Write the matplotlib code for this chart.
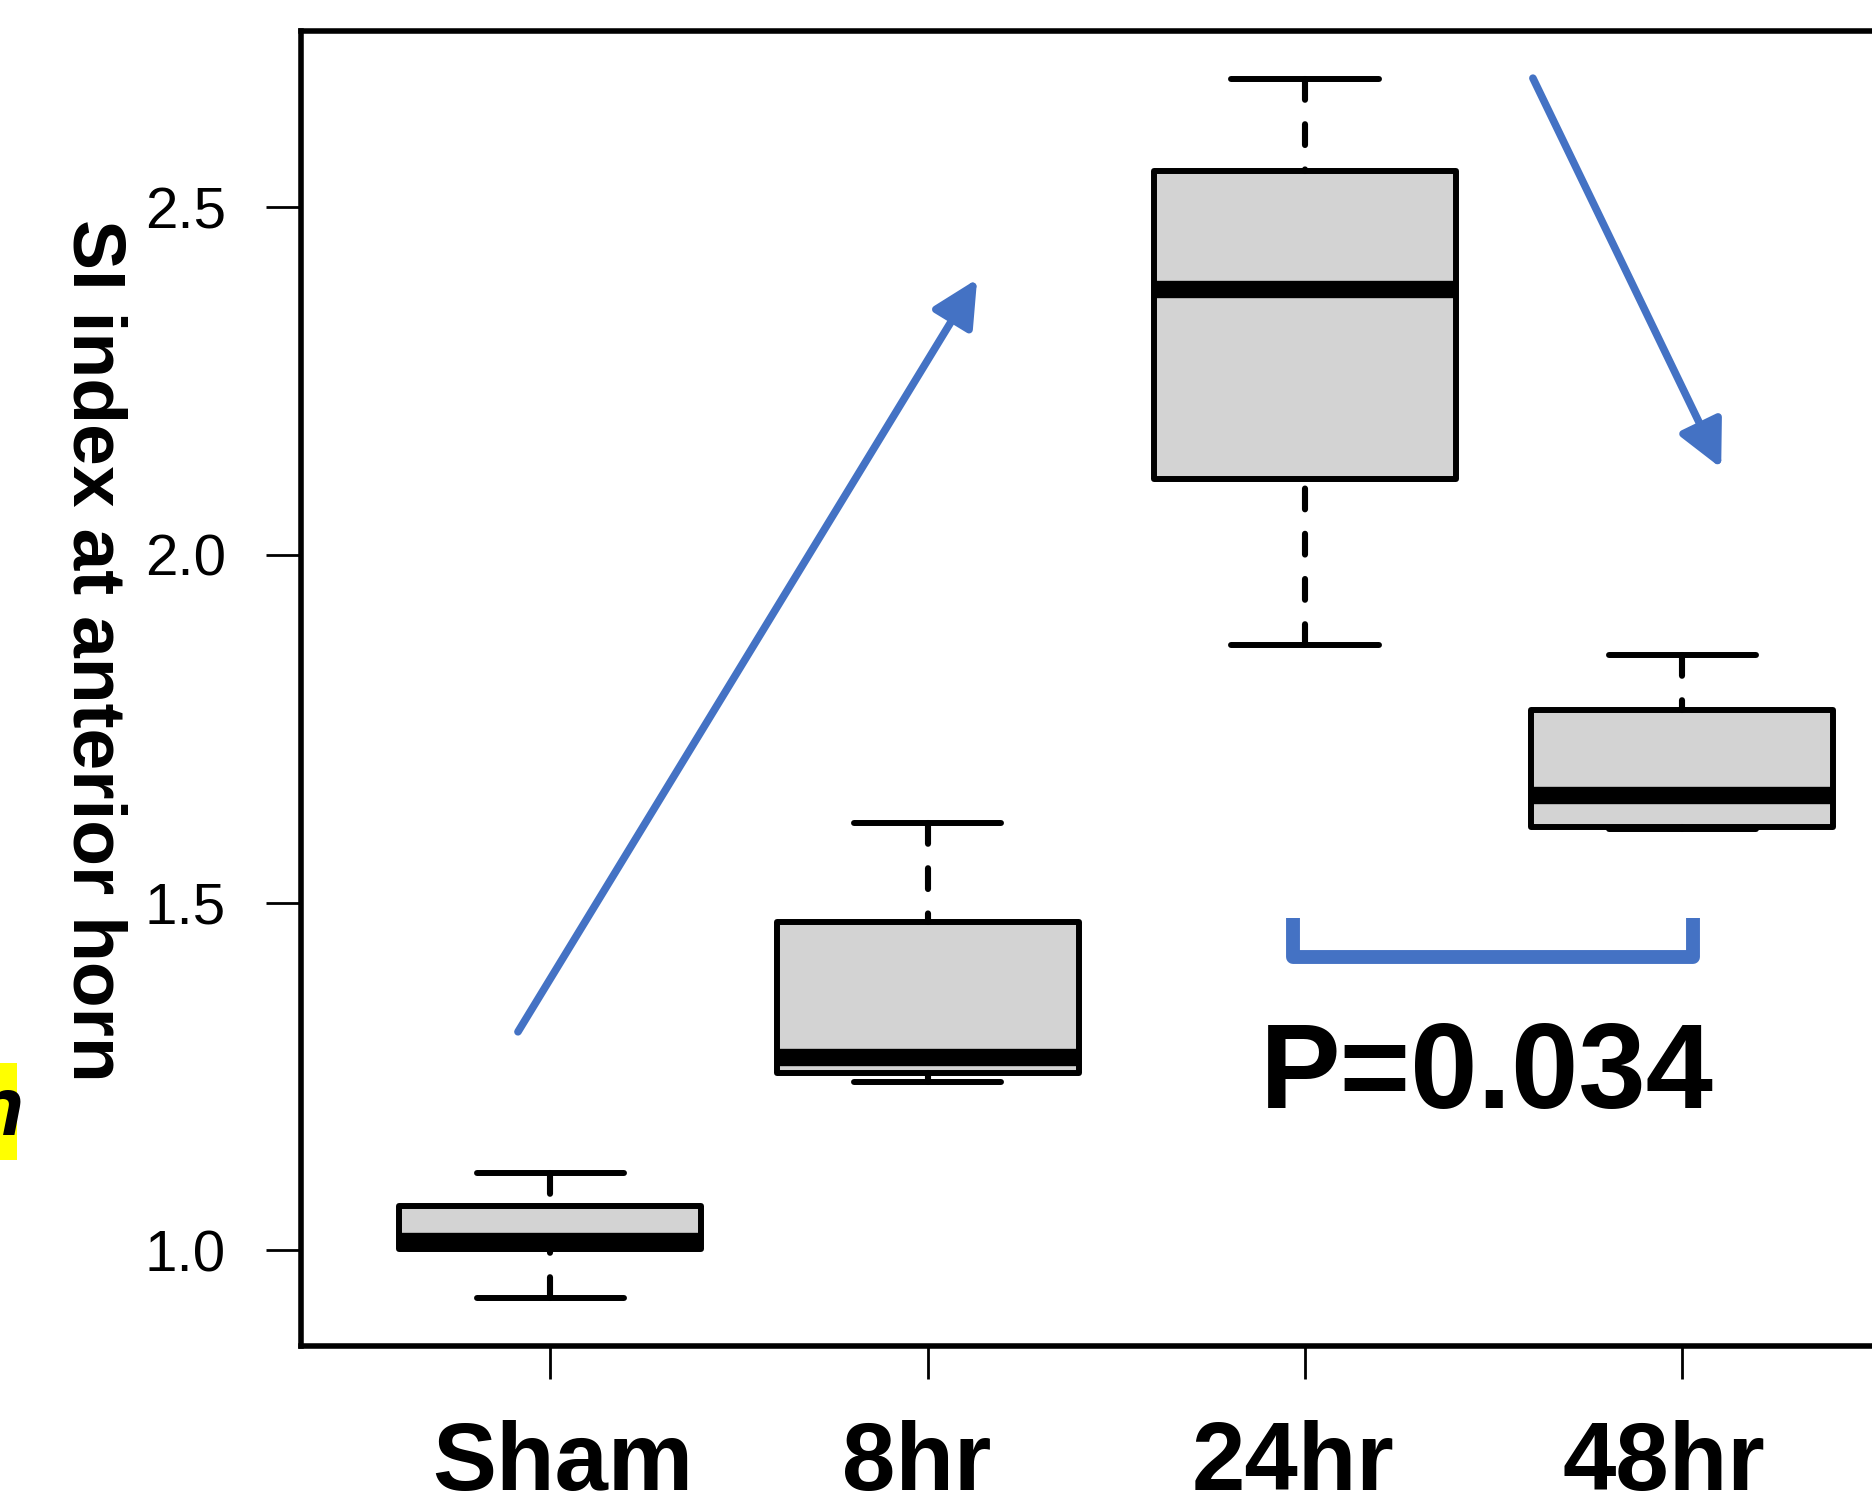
import matplotlib
matplotlib.use('Agg')
import matplotlib.pyplot as plt
import matplotlib.transforms as mtransforms
from matplotlib.patches import Rectangle, FancyArrowPatch

plt.rcParams['font.family'] = ['Liberation Sans', 'DejaVu Sans']

# data
groups = ['Sham', '8hr', '24hr', '48hr']
whislo = [0.931, 1.242, 1.871, 1.606]
q1 = [1.001, 1.255, 2.109, 1.609]
med = [1.013, 1.278, 2.383, 1.655]
q3 = [1.063, 1.472, 2.553, 1.777]
whishi = [1.111, 1.614, 2.685, 1.856]
yticks = [1.0, 1.5, 2.0, 2.5]
p_text = 'P=0.034'

blue = '#4472C4'
positions = [1, 2, 3, 4]

fig = plt.figure(figsize=(18.72, 15), dpi=100)
ax = fig.add_axes([0.1608, 0.1027, 0.8711, 0.8767])

stats = []
for i, g in enumerate(groups):
    stats.append(dict(label=g, whislo=whislo[i], q1=q1[i], med=med[i],
                      q3=q3[i], whishi=whishi[i], fliers=[]))

bp = ax.bxp(stats, positions=positions, widths=0.8, capwidths=0.39,
            patch_artist=True, showfliers=False,
            boxprops=dict(facecolor='#D3D3D3', edgecolor='black', linewidth=4.3, joinstyle='round'),
            medianprops=dict(color='black', linewidth=12.5, solid_capstyle='butt'),
            whiskerprops=dict(color='black', linewidth=4.4, linestyle=(0, (3.4, 4.0)),
                              dash_capstyle='round'),
            capprops=dict(color='black', linewidth=4.3, solid_capstyle='round'))
# R draws the dashes from the whisker end toward the box
for line in bp['whiskers']:
    line.set_ydata(line.get_ydata()[::-1])

ax.set_xlim(0.339, 4.661)
ax.set_ylim(0.862, 2.754)

for s in ax.spines.values():
    s.set_linewidth(4)

ax.set_xticks(positions)
ax.set_xticklabels([''] * len(positions))
ax.set_yticks(yticks)
ax.set_yticklabels(['%.1f' % v for v in yticks])
ax.tick_params(axis='x', direction='out', length=24, width=2)
ax.tick_params(axis='y', direction='out', length=25, width=2, pad=29, labelsize=42)

# group labels (placed by hand in the original, slightly off the ticks)
label_shift = [0.032, -0.029, -0.032, -0.048]
trans = mtransforms.blended_transform_factory(ax.transData, fig.transFigure)
for pos, g, sh in zip(positions, groups, label_shift):
    ax.text(pos + sh, 0.0067, g, transform=trans, ha='center', va='baseline',
            fontsize=69, fontweight='bold', clip_on=False)

fig.text(0.0497, 0.5667, 'SI index at anterior horn', rotation=270,
         ha='center', va='center', fontsize=54, fontweight='bold')

# trend arrows
arrow_kw = dict(arrowstyle='-|>,head_length=28,head_width=14', mutation_scale=1,
                color=blue, linewidth=5.5, shrinkA=0, shrinkB=0)
ax.add_patch(FancyArrowPatch((0.914, 1.314), (2.131, 2.397), **arrow_kw))
ax.add_patch(FancyArrowPatch((3.604, 2.686), (4.103, 2.125), **arrow_kw))

# significance bracket
ax.plot([2.968, 2.968, 4.028, 4.028], [1.478, 1.422, 1.422, 1.478], color=blue,
        linewidth=10, solid_joinstyle='round', solid_capstyle='butt')
ax.text(3.482, 1.204, p_text, ha='center', va='baseline', fontsize=87, fontweight='bold')

# leftover of highlighted caption at the left edge
fig.patches.append(Rectangle((0, 0.2267), 0.0091, 0.0646, transform=fig.transFigure,
                             facecolor='#FFFF00', edgecolor='none'))
fig.text(0.0123, 0.2433, 'n', ha='right', va='baseline', fontsize=60,
         fontweight='bold', style='italic')

fig.savefig('out.png', dpi=100)
